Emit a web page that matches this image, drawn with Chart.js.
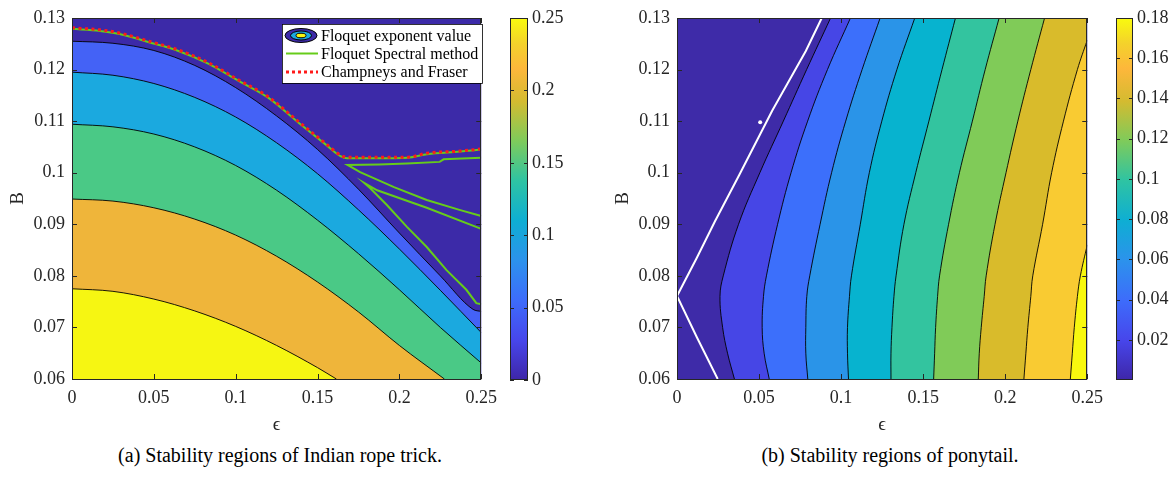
<!DOCTYPE html>
<html>
<head>
<meta charset="utf-8">
<title>Stability regions</title>
<script src="https://cdn.jsdelivr.net/npm/chart.js@4.4.1/dist/chart.umd.min.js"></script>
<style>
  body { margin: 0; background: #fff; }
  #page { position: relative; width: 1175px; height: 480px; overflow: hidden; font-family: "Liberation Serif", "Times New Roman", serif; }
  #page canvas { position: absolute; top: 0; }
  .caption { position: absolute; top: 440px; width: 440px; line-height: 30px; font-size: 20px; color: #000; text-align: center; white-space: nowrap; }
</style>
</head>
<body>
<div id="page">
  <canvas id="ropeChart" width="505" height="440" style="left:0px"></canvas>
  <canvas id="ropeBar" width="80" height="400" style="left:500px"></canvas>
  <canvas id="tailChart" width="511" height="440" style="left:600px"></canvas>
  <canvas id="tailBar" width="69" height="400" style="left:1106px"></canvas>
  <div class="caption" style="left:60px">(a) Stability regions of Indian rope trick.</div>
  <div class="caption" style="left:670px">(b) Stability regions of ponytail.</div>
</div>
<script>
const FONT = '"Liberation Serif", "Times New Roman", serif';
const INK = '#262626';

// ---- (a) Indian rope trick: B along each contour edge, as a function of epsilon ----
const ropeEpsTicks = [0, 0.05, 0.1, 0.15, 0.2, 0.25];
const ropeBTicks = [0.06, 0.07, 0.08, 0.09, 0.1, 0.11, 0.12, 0.13];
const ropeBarRange = [0, 0.25];
const ropeBarTicks = [0, 0.05, 0.1, 0.15, 0.2, 0.25];

const ropeEdge1Eps = [0, 0.025, 0.05, 0.075, 0.1, 0.125, 0.15, 0.175, 0.2, 0.225, 0.245, 0.25];
const ropeEdge1B   = [0.1255, 0.1251, 0.1237, 0.1208, 0.1165, 0.1110, 0.1045, 0.0968, 0.0883, 0.0800, 0.0735, 0.0731];
const ropeEdge2Eps = [0, 0.025, 0.05, 0.075, 0.1, 0.125, 0.15, 0.175, 0.2, 0.225, 0.25];
const ropeEdge2B   = [0.1195, 0.1189, 0.1173, 0.1146, 0.1108, 0.1058, 0.0998, 0.0928, 0.0852, 0.0772, 0.0690];
const ropeEdge3Eps = [0, 0.025, 0.05, 0.075, 0.1, 0.125, 0.15, 0.175, 0.2, 0.225, 0.25];
const ropeEdge3B   = [0.1094, 0.1089, 0.1075, 0.1050, 0.1014, 0.0966, 0.0908, 0.0843, 0.0773, 0.0700, 0.0631];
const ropeEdge4Eps = [0, 0.025, 0.05, 0.075, 0.1, 0.125, 0.15, 0.175, 0.2, 0.2275];
const ropeEdge4B   = [0.0949, 0.0945, 0.0932, 0.0910, 0.0879, 0.0838, 0.0788, 0.0730, 0.0665, 0.0600];
const ropeEdge5Eps = [0, 0.025, 0.05, 0.075, 0.1, 0.125, 0.15, 0.1615];
const ropeEdge5B   = [0.0775, 0.0770, 0.0755, 0.0732, 0.0702, 0.0665, 0.0622, 0.0600];

// Floquet spectral method curves
const ropeSpecAEps = [0, 0.017, 0.029, 0.047, 0.065, 0.0835, 0.1017, 0.12, 0.138, 0.156, 0.164, 0.168, 0.186, 0.205, 0.217, 0.237, 0.25];
const ropeSpecAB   = [0.1279, 0.1275, 0.1269, 0.1253, 0.1236, 0.1211, 0.1178, 0.1145, 0.1098, 0.1052, 0.1032, 0.1028, 0.1028, 0.1029, 0.1036, 0.1041, 0.1045];
const ropeSpecBEps = [0.25, 0.227, 0.2246, 0.2046, 0.1877, 0.1683, 0.176, 0.1967, 0.2167, 0.2367, 0.25];
const ropeSpecBB   = [0.1029, 0.1026, 0.1021, 0.1018, 0.1016, 0.1015, 0.1001, 0.0972, 0.0947, 0.0928, 0.0916];
const ropeSpecCEps = [0.25, 0.2167, 0.1864, 0.1786, 0.1822, 0.1925, 0.2046, 0.2167, 0.2288, 0.2409, 0.247, 0.25];
const ropeSpecCB   = [0.0891, 0.0932, 0.0966, 0.0980, 0.0970, 0.0937, 0.0895, 0.0856, 0.0811, 0.0773, 0.0747, 0.0745];
// Champneys and Fraser
const ropeCfEps = [0, 0.017, 0.029, 0.047, 0.065, 0.0835, 0.1017, 0.12, 0.138, 0.156, 0.164, 0.168, 0.186, 0.205, 0.217, 0.237, 0.25];
const ropeCfB   = [0.1281, 0.1277, 0.1271, 0.1255, 0.1238, 0.1213, 0.1180, 0.1147, 0.1100, 0.1054, 0.1034, 0.1030, 0.1030, 0.1030, 0.1038, 0.1042, 0.1046];

const ropeLegendLabels = ['Floquet exponent value', 'Floquet Spectral method', 'Champneys and Fraser'];

// ---- (b) ponytail: epsilon along each contour edge, as a function of B ----
const tailEpsTicks = [0, 0.05, 0.1, 0.15, 0.2, 0.25];
const tailBTicks = [0.06, 0.07, 0.08, 0.09, 0.1, 0.11, 0.12, 0.13];
const tailBarRange = [0, 0.18];
const tailBarTicks = [0.02, 0.04, 0.06, 0.08, 0.1, 0.12, 0.14, 0.16, 0.18];

const tailRowB = [0.06, 0.065, 0.07, 0.076, 0.08, 0.09, 0.10, 0.11, 0.12, 0.13];
const tailEdge1Eps = [0.0350, 0.0308, 0.0278, 0.0262, 0.0282, 0.0375, 0.0505, 0.0648, 0.0790, 0.0936];
const tailEdge2Eps = [0.0562, 0.0531, 0.0519, 0.0527, 0.0545, 0.0613, 0.0695, 0.0796, 0.0917, 0.1057];
const tailEdge3Eps = [0.0797, 0.0785, 0.0785, 0.0791, 0.0809, 0.0872, 0.0942, 0.1028, 0.1128, 0.1238];
const tailEdge4Eps = [0.1045, 0.1039, 0.1039, 0.1051, 0.1063, 0.1117, 0.1172, 0.1248, 0.1340, 0.1449];
const tailEdge5Eps = [0.1304, 0.1304, 0.1310, 0.1322, 0.1335, 0.1383, 0.1455, 0.1535, 0.1615, 0.1697];
const tailEdge6Eps = [0.1564, 0.1570, 0.1576, 0.1588, 0.1600, 0.1655, 0.1721, 0.1800, 0.1878, 0.1963];
const tailEdge7Eps = [0.1836, 0.1842, 0.1854, 0.1872, 0.1884, 0.1938, 0.2005, 0.2077, 0.2156, 0.2240];
const tailEdge8B   = [0.06, 0.065, 0.07, 0.076, 0.08, 0.09, 0.10, 0.11, 0.12, 0.1257];
const tailEdge8Eps = [0.2114, 0.2126, 0.2138, 0.2156, 0.2168, 0.2228, 0.2283, 0.2355, 0.2440, 0.25];
const tailEdge9B   = [0.06, 0.065, 0.07, 0.076, 0.08, 0.086];
const tailEdge9Eps = [0.2397, 0.2409, 0.2421, 0.2440, 0.2458, 0.25];
// zero-exponent boundary (white)
const tailZeroB   = [0.06, 0.0681, 0.0761, 0.0835, 0.0905, 0.0996, 0.1120, 0.1178, 0.1236, 0.13];
const tailZeroEps = [0.0248, 0.0121, 0, 0.0121, 0.0230, 0.0380, 0.0580, 0.0682, 0.0785, 0.0882];
const tailBlipEps = [0.0507];
const tailBlipB   = [0.1098];

// colours
const ropeBands = ['#3c2aa8', '#4462f6', '#1ba9df', '#4ac986', '#efb53a', '#f6f612'];
const tailBands = ['#3e2ba8', '#4646e6', '#3c6ffb', '#2a94e8', '#07b3cf', '#33c49f', '#80cb58', '#d9bb2b', '#f9cb32', '#f8f80f'];
const parulaStops = [
  [0, '#3e26a8'], [0.11, '#4746eb'], [0.22, '#3d6cfb'], [0.33, '#2c92ec'], [0.44, '#0eaed3'],
  [0.55, '#2ec3a3'], [0.66, '#7ecb5b'], [0.77, '#d4bb30'], [0.86, '#fdb73b'], [0.93, '#f4d22b'], [1, '#f9fb0e']
];

const pts = (xs, ys) => xs.map((x, i) => ({ x: x, y: ys[i] }));

Chart.defaults.font.family = FONT;
Chart.defaults.color = INK;

// paints the lowest band under everything
const plotBackground = {
  id: 'plotBackground',
  beforeDatasetsDraw(chart, args, opts) {
    const a = chart.chartArea, ctx = chart.ctx;
    ctx.save();
    ctx.fillStyle = opts.color;
    ctx.fillRect(a.left, a.top, a.width, a.height);
    ctx.restore();
  }
};

// matlab-like box with inward ticks and axis titles
const boxAxes = {
  id: 'boxAxes',
  afterDraw(chart, args, opts) {
    const { ctx, chartArea: a, scales } = chart;
    const x = scales.x, y = scales.y;
    ctx.save();
    ctx.strokeStyle = INK;
    ctx.lineWidth = 1;
    ctx.beginPath();
    x.ticks.forEach(t => {
      const px = Math.round(x.getPixelForValue(t.value)) + 0.5;
      ctx.moveTo(px, a.bottom); ctx.lineTo(px, a.bottom - 5);
      ctx.moveTo(px, a.top); ctx.lineTo(px, a.top + 5);
    });
    y.ticks.forEach(t => {
      const py = Math.round(y.getPixelForValue(t.value)) + 0.5;
      ctx.moveTo(a.left, py); ctx.lineTo(a.left + 5, py);
      ctx.moveTo(a.right, py); ctx.lineTo(a.right - 5, py);
    });
    ctx.stroke();
    ctx.strokeRect(Math.round(a.left) + 0.5, Math.round(a.top) + 0.5, Math.round(a.width) - 1, Math.round(a.height));
    ctx.fillStyle = INK;
    ctx.font = '19px ' + FONT;
    ctx.textAlign = 'center';
    ctx.textBaseline = 'middle';
    ctx.fillText(opts.xTitle, (a.left + a.right) / 2, a.bottom + 46);
    ctx.translate(a.left - 54, (a.top + a.bottom) / 2);
    ctx.rotate(-Math.PI / 2);
    ctx.fillText(opts.yTitle, 0, 0);
    ctx.restore();
  }
};

const ropeLegend = {
  id: 'ropeLegend',
  afterDraw(chart) {
    const ctx = chart.ctx, a = chart.chartArea;
    const x0 = a.left + 210, y0 = a.top + 6, w = 200, h = 59;
    const rows = [y0 + 11.5, y0 + 29.5, y0 + 48];
    ctx.save();
    ctx.fillStyle = '#fff';
    ctx.fillRect(x0, y0, w, h);
    ctx.strokeStyle = '#000';
    ctx.lineWidth = 0.8;
    ctx.strokeRect(x0 + 0.5, y0 + 0.5, w, h);
    // contour icon
    [[16, 7, ropeBands[0]], [10.5, 4.5, ropeBands[2]], [5, 2.3, ropeBands[5]]].forEach(([rx, ry, c]) => {
      ctx.beginPath();
      ctx.ellipse(x0 + 19, rows[0], rx, ry, 0, 0, Math.PI * 2);
      ctx.fillStyle = c;
      ctx.fill();
      ctx.strokeStyle = '#000';
      ctx.lineWidth = 1;
      ctx.stroke();
    });
    ctx.beginPath();
    ctx.strokeStyle = '#66cc1a';
    ctx.lineWidth = 2;
    ctx.moveTo(x0 + 4, rows[1]); ctx.lineTo(x0 + 36, rows[1]);
    ctx.stroke();
    ctx.beginPath();
    ctx.strokeStyle = '#ff1a1a';
    ctx.lineWidth = 3;
    ctx.setLineDash([3, 3]);
    ctx.moveTo(x0 + 4, rows[2]); ctx.lineTo(x0 + 36, rows[2]);
    ctx.stroke();
    ctx.setLineDash([]);
    ctx.fillStyle = '#000';
    ctx.font = '16px ' + FONT;
    ctx.textAlign = 'left';
    ctx.textBaseline = 'middle';
    ropeLegendLabels.forEach((s, i) => ctx.fillText(s, x0 + 39, rows[i] + 1));
    ctx.restore();
  }
};

const barFrame = {
  id: 'barFrame',
  afterDraw(chart) {
    const ctx = chart.ctx, a = chart.chartArea, y = chart.scales.y;
    ctx.save();
    ctx.strokeStyle = INK;
    ctx.lineWidth = 1;
    ctx.strokeRect(Math.round(a.left) + 0.5, Math.round(a.top) + 0.5, Math.round(a.width) - 1, Math.round(a.height) - 1);
    ctx.beginPath();
    y.ticks.forEach(t => {
      const py = Math.round(y.getPixelForValue(t.value)) + 0.5;
      ctx.moveTo(a.left, py); ctx.lineTo(a.left + 4, py);
      ctx.moveTo(a.right, py); ctx.lineTo(a.right - 4, py);
    });
    ctx.stroke();
    ctx.restore();
  }
};

function parulaGradient(chart) {
  const a = chart.chartArea;
  if (!a) return parulaStops[0][1];
  const g = chart.ctx.createLinearGradient(0, a.bottom, 0, a.top);
  parulaStops.forEach(s => g.addColorStop(s[0], s[1]));
  return g;
}

function tickFont() {
  return { family: FONT, size: 18 };
}

function axisX(ticks, min, max) {
  return {
    type: 'linear', min: min, max: max,
    afterBuildTicks: s => { s.ticks = ticks.map(v => ({ value: v })); },
    afterFit: s => { s.height = 61; },
    grid: { display: false, drawTicks: false },
    border: { display: false },
    ticks: { padding: 8, color: INK, font: tickFont(), maxRotation: 0, callback: v => String(v) }
  };
}

function axisY(ticks, min, max, width) {
  return {
    type: 'linear', min: min, max: max,
    afterBuildTicks: s => { s.ticks = ticks.map(v => ({ value: v })); },
    afterFit: s => { s.width = width; },
    grid: { display: false, drawTicks: false },
    border: { display: false },
    ticks: { padding: 7, color: INK, font: tickFont(), callback: v => String(v) }
  };
}

function makeColorbar(id, range, ticks, width) {
  return new Chart(document.getElementById(id), {
    type: 'bar',
    data: {
      labels: ['bar'],
      datasets: [{
        data: [range],
        backgroundColor: c => parulaGradient(c.chart),
        borderWidth: 0,
        barPercentage: 1,
        categoryPercentage: 1
      }]
    },
    options: {
      responsive: false,
      animation: false,
      events: [],
      layout: { padding: { left: 10, top: 18, bottom: 20, right: 0 } },
      plugins: { legend: { display: false }, tooltip: { enabled: false } },
      scales: {
        x: { display: false },
        y: {
          position: 'right', min: range[0], max: range[1],
          afterBuildTicks: s => { s.ticks = ticks.map(v => ({ value: v })); },
          afterFit: s => { s.width = width; },
          grid: { display: false, drawTicks: false },
          border: { display: false },
          ticks: { padding: 4, color: INK, font: tickFont(), callback: v => String(v) }
        }
      }
    },
    plugins: [barFrame]
  });
}

// ---------- chart (a) ----------
const ropeEdges = [
  [ropeEdge1Eps, ropeEdge1B], [ropeEdge2Eps, ropeEdge2B], [ropeEdge3Eps, ropeEdge3B],
  [ropeEdge4Eps, ropeEdge4B], [ropeEdge5Eps, ropeEdge5B]
];
const ropeSets = ropeEdges.map((e, i) => ({
  data: pts(e[0], e[1]),
  borderColor: '#000',
  borderWidth: 0.9,
  backgroundColor: ropeBands[i + 1],
  fill: 'start',
  pointRadius: 0,
  cubicInterpolationMode: 'monotone',
  order: 30 - i
}));
ropeSets.push({
  label: ropeLegendLabels[1],
  data: pts(ropeSpecAEps, ropeSpecAB),
  borderColor: '#66cc1a',
  borderWidth: 2,
  fill: false,
  pointRadius: 0,
  cubicInterpolationMode: 'monotone',
  order: 5
});
[[ropeSpecBEps, ropeSpecBB], [ropeSpecCEps, ropeSpecCB]].forEach(s => {
  ropeSets.push({
    label: ropeLegendLabels[1],
    data: pts(s[0], s[1]),
    borderColor: '#66cc1a',
    borderWidth: 2,
    fill: false,
    pointRadius: 0,
    tension: 0,
    order: 5
  });
});
ropeSets.push({
  label: ropeLegendLabels[2],
  data: pts(ropeCfEps, ropeCfB),
  borderColor: '#ff1a1a',
  borderWidth: 3,
  borderDash: [3, 3.5],
  fill: false,
  pointRadius: 0,
  cubicInterpolationMode: 'monotone',
  order: 1
});

new Chart(document.getElementById('ropeChart'), {
  type: 'line',
  data: { datasets: ropeSets },
  options: {
    responsive: false,
    animation: false,
    events: [],
    layout: { padding: { left: 0, top: 18, right: 20, bottom: 0 } },
    plugins: {
      legend: { display: false },
      tooltip: { enabled: false },
      plotBackground: { color: ropeBands[0] },
      boxAxes: { xTitle: '\u03f5', yTitle: 'B' }
    },
    scales: {
      x: axisX(ropeEpsTicks, 0, 0.25),
      y: axisY(ropeBTicks, 0.06, 0.13, 72)
    }
  },
  plugins: [plotBackground, boxAxes, ropeLegend]
});
makeColorbar('ropeBar', ropeBarRange, ropeBarTicks, 52);

// ---------- chart (b) ----------
const tailEdges = [
  [tailEdge1Eps, tailRowB], [tailEdge2Eps, tailRowB], [tailEdge3Eps, tailRowB],
  [tailEdge4Eps, tailRowB], [tailEdge5Eps, tailRowB], [tailEdge6Eps, tailRowB],
  [tailEdge7Eps, tailRowB], [tailEdge8Eps, tailEdge8B], [tailEdge9Eps, tailEdge9B]
];
const tailSets = tailEdges.map((e, i) => ({
  data: pts(e[0], e[1]),
  borderColor: '#000',
  borderWidth: 0.9,
  backgroundColor: tailBands[i + 1],
  fill: { value: 0.25 },
  pointRadius: 0,
  tension: 0.4,
  order: 30 - i
}));
tailSets.push({
  data: pts(tailZeroEps, tailZeroB),
  borderColor: '#ffffff',
  borderWidth: 2,
  fill: false,
  pointRadius: 0,
  tension: 0,
  order: 2
});
tailSets.push({
  data: pts(tailBlipEps, tailBlipB),
  showLine: false,
  pointRadius: 2,
  pointBorderWidth: 0,
  pointBackgroundColor: '#ffffff',
  fill: false,
  order: 1
});

new Chart(document.getElementById('tailChart'), {
  type: 'line',
  data: { datasets: tailSets },
  options: {
    indexAxis: 'y',
    responsive: false,
    animation: false,
    events: [],
    layout: { padding: { left: 0, top: 18, right: 20, bottom: 0 } },
    plugins: {
      legend: { display: false },
      tooltip: { enabled: false },
      plotBackground: { color: tailBands[0] },
      boxAxes: { xTitle: '\u03f5', yTitle: 'B' }
    },
    scales: {
      x: axisX(tailEpsTicks, 0, 0.25),
      y: axisY(tailBTicks, 0.06, 0.13, 77)
    }
  },
  plugins: [plotBackground, boxAxes]
});
makeColorbar('tailBar', tailBarRange, tailBarTicks, 42);
</script>
</body>
</html>
